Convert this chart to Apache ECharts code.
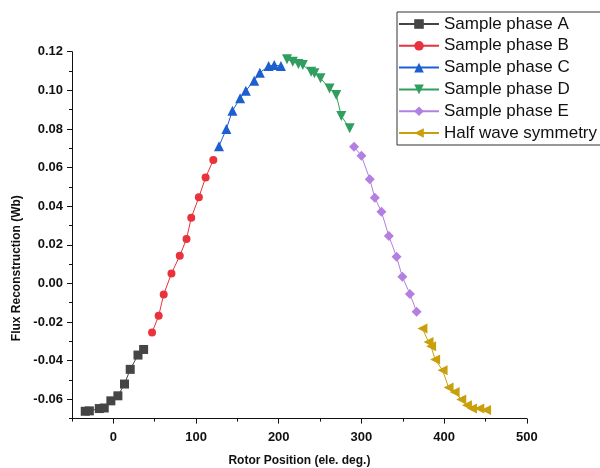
<!DOCTYPE html>
<html><head><meta charset="utf-8">
<script src="https://cdn.jsdelivr.net/npm/echarts@6/dist/echarts.min.js"></script>
<style>html,body{margin:0;padding:0;background:#fff}#c{width:600px;height:468px}</style>
</head><body><div id="c"></div>
<script>
// ---- data ----
const seriesNames = ['Sample phase A','Sample phase B','Sample phase C','Sample phase D','Sample phase E','Half wave symmetry'];
const phaseA_x = [-34,-29,-17,-11,-3,5.5,13.5,20.4,29.8,36.6];
const phaseA_y = [-0.0662,-0.0660,-0.0648,-0.0645,-0.0608,-0.0582,-0.0521,-0.0445,-0.0371,-0.0342];
const phaseB_x = [46.8,54.8,60.9,70.3,80.3,88.5,94.2,103.4,111.6,120.9];
const phaseB_y = [-0.0254,-0.0168,-0.0057,0.0052,0.0143,0.0230,0.0340,0.0446,0.0549,0.0639];
const phaseC_x = [127.8,136.7,144.0,153.3,160.2,170.3,177.2,187.8,194.6,202.7];
const phaseC_y = [0.0711,0.0800,0.0894,0.0959,0.0998,0.1050,0.1091,0.1126,0.1131,0.1126];
const phaseD_x = [210.0,217.0,223.8,229.1,239.2,243.2,250.5,261.5,269.6,275.7,285.8];
const phaseD_y = [0.1161,0.1148,0.1136,0.1131,0.1096,0.1088,0.1062,0.1010,0.0976,0.0867,0.0803];
const phaseE_x = [291.1,300.0,310.1,316.2,324.2,333.2,342.5,349.5,358.7,366.8];
const phaseE_y = [0.0708,0.0661,0.0540,0.0444,0.0371,0.0245,0.0138,0.0034,-0.0055,-0.0147];
const halfW_x = [373.8,381.1,384.2,389.1,398.1,405.4,412.7,420.7,427.6,433.7,442.6,450.7];
const halfW_y = [-0.0233,-0.0303,-0.0325,-0.0394,-0.0449,-0.0539,-0.0562,-0.0601,-0.0631,-0.0648,-0.0648,-0.0656];
const xMajorTicks = [0,100,200,300,400,500];
const xMinorTicks = [-50,50,150,250,350,450];
const yMajorTicks = [-0.06,-0.04,-0.02,0,0.02,0.04,0.06,0.08,0.10,0.12];
const yMinorTicks = [-0.07,-0.05,-0.03,-0.01,0.01,0.03,0.05,0.07,0.09,0.11];

const xs = [phaseA_x,phaseB_x,phaseC_x,phaseD_x,phaseE_x,halfW_x];
const ys = [phaseA_y,phaseB_y,phaseC_y,phaseD_y,phaseE_y,halfW_y];
const colors = ['#454545','#e8333c','#1d5fd0','#2f9e5f','#b37fe0','#c9a00c'];
const symbols = ['rect','circle','triangle','triangle','diamond','triangle'];
const rotates = [0,0,0,180,0,90];
const sizes = [9,8,10,10,10,10];

const FONT = 'Liberation Sans, Arial, sans-serif';
const chart = echarts.init(document.getElementById('c'));
const series = seriesNames.map((n,i)=>({
  name:n, type:'line', xAxisIndex:0, yAxisIndex:0,
  data: xs[i].map((x,k)=>[x, ys[i][k]]),
  symbol: symbols[i], symbolRotate: rotates[i], symbolSize: sizes[i],
  showAllSymbol:true,
  lineStyle:{color:colors[i], width:1},
  itemStyle:{color:colors[i]},
  emphasis:{disabled:true}
}));
const axisBase = {type:'value', splitLine:{show:false}};
chart.setOption({
  animation:false,
  backgroundColor:'#fff',
  grid:{left:72, right:73.2, top:51.7, bottom:49.4, containLabel:false, outerBoundsMode:'none'},
  legend:{
    orient:'vertical', left:397, top:12,
    itemWidth:40, itemHeight:12, itemGap:4.8,
    padding:[3.5,40,3.5,1],
    borderColor:'#333', borderWidth:1,
    textStyle:{fontSize:17, fontFamily:FONT, color:'#111', lineHeight:17},
    data: seriesNames
  },
  xAxis:[
    Object.assign({}, axisBase, {
      min:-50, max:500, position:'bottom',
      name:'Rotor Position (ele. deg.)', nameLocation:'middle', nameGap:36,
      nameTextStyle:{fontSize:12, fontWeight:'bold', fontFamily:FONT, color:'#111'},
      axisLine:{onZero:false, lineStyle:{color:'#111', width:1}},
      axisTick:{customValues:xMajorTicks, length:5, lineStyle:{color:'#111'}},
      axisLabel:{customValues:xMajorTicks, margin:12, fontSize:13, fontWeight:'bold', fontFamily:FONT, color:'#111'}
    }),
    Object.assign({}, axisBase, {
      min:-50, max:500, position:'bottom',
      axisLine:{show:false, onZero:false},
      axisTick:{customValues:xMinorTicks, length:3, lineStyle:{color:'#111'}},
      axisLabel:{show:false}
    })
  ],
  yAxis:[
    Object.assign({}, axisBase, {
      min:-0.07, max:0.12, position:'left',
      name:'Flux Reconstruction (Wb)', nameLocation:'middle', nameGap:45,
      nameTextStyle:{fontSize:12, fontWeight:'bold', fontFamily:FONT, color:'#111', padding:[0,66,0,0]},
      axisLine:{onZero:false, lineStyle:{color:'#111', width:1}},
      axisTick:{customValues:yMajorTicks, length:5, lineStyle:{color:'#111'}},
      axisLabel:{customValues:yMajorTicks, margin:9, fontSize:13, fontWeight:'bold', fontFamily:FONT, color:'#111',
        formatter:v=>v.toFixed(2)}
    }),
    Object.assign({}, axisBase, {
      min:-0.07, max:0.12, position:'left',
      axisLine:{show:false, onZero:false},
      axisTick:{customValues:yMinorTicks, length:3, lineStyle:{color:'#111'}},
      axisLabel:{show:false}
    })
  ],
  series: series
});
</script>
</body></html>
